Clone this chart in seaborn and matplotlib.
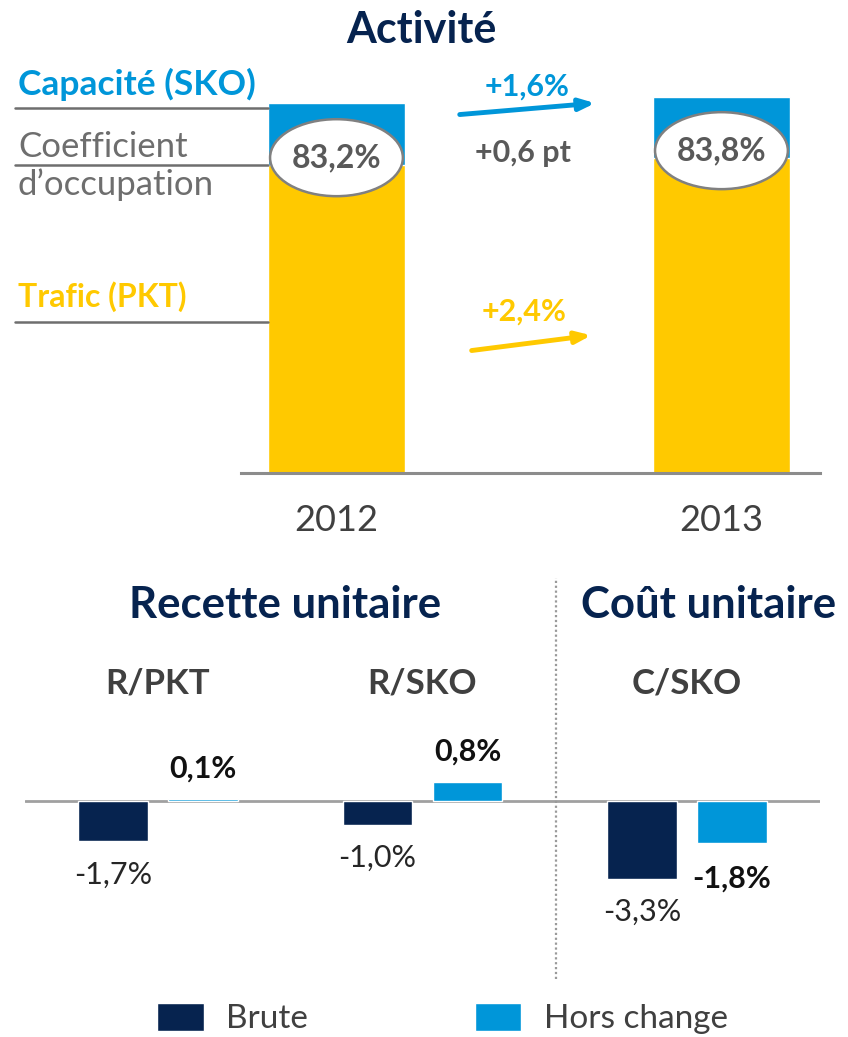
import numpy as np
import pandas as pd
import seaborn as sns
import matplotlib.pyplot as plt
from matplotlib.patches import Ellipse

sns.set_style("white")
plt.rcParams.update({"font.family": ["Lato", "DejaVu Sans"]})

navy = "#06234f"
blue = "#0096d9"
yellow = "#ffc900"
grey_txt = "#595959"
grey_line = "#8c8c8c"

# top chart: activity (capacity indexed to 100 in 2012)
years = ["2012", "2013"]
capacity = [100.0, 101.6]
traffic = [83.2, 85.1]
load_factor = ["83,2%", "83,8%"]
cap_change = "+1,6%"
traf_change = "+2,4%"
lf_change = "+0,6 pt"

# bottom chart: unit revenue / unit cost
metrics = ["R/PKT", "R/SKO", "C/SKO"]
brute = [-1.7, -1.0, -3.3]
hors_change = [0.1, 0.8, -1.8]
brute_lbl = ["-1,7%", "-1,0%", "-3,3%"]
hc_lbl = ["0,1%", "0,8%", "-1,8%"]

W, H = 848, 1037
fig = plt.figure(figsize=(W / 100, H / 100), dpi=100)

# ---------- top ----------
ax1 = fig.add_axes([241 / W, 1 - 473 / H, (820 - 241) / W, (473 - 60) / H])
sns.barplot(x=years, y=capacity, color=blue, saturation=1, width=0.357, ax=ax1)
sns.barplot(x=years, y=traffic, color=yellow, saturation=1, width=0.357, ax=ax1)
ax1.set_ylim(0, 111.6)
ax1.set_xlim(-0.248, 1.256)
sns.despine(ax=ax1, left=True, top=True, right=True)
ax1.spines["bottom"].set_color(grey_line)
ax1.spines["bottom"].set_linewidth(2.2)
ax1.set_yticks([])
ax1.tick_params(axis="x", length=0, pad=22, labelsize=26, labelcolor="#404040")

for i in range(2):
    ax1.add_patch(Ellipse((i, traffic[i] + 2.0), 0.345, 20.8, facecolor="white",
                          edgecolor="#808080", lw=1.8, zorder=5))
    ax1.text(i, traffic[i] + 2.0, load_factor[i], ha="center", va="center",
             fontsize=23, fontweight="bold", color=grey_txt, zorder=6)

# leader lines + labels on the left
x_left = (15 - 336.5) / 385
x_edge = -0.357 / 2
for yv in [capacity[0] - 1.4, traffic[0], traffic[0] * 0.49]:
    ax1.plot([x_left, x_edge], [yv, yv], color="#6e6e6e", lw=1.8, clip_on=False)
x_txt = (18 - 336.5) / 385
ax1.text(x_txt, capacity[0] + 5, "Capacité (SKO)", color=blue, fontsize=25.5,
         fontweight="bold", va="center", ha="left", clip_on=False)
ax1.text(x_txt, traffic[0] + 4.9, "Coefficient", color="#6e6e6e", fontsize=25,
         va="center", ha="left", clip_on=False)
ax1.text(x_txt, traffic[0] - 5.4, "d\u2019occupation", color="#6e6e6e", fontsize=25,
         va="center", ha="left", clip_on=False)
ax1.text(x_txt, traffic[0] * 0.572, "Trafic (PKT)", color=yellow, fontsize=23,
         fontweight="bold", va="center", ha="left", clip_on=False)

# growth arrows
ax1.annotate("", xy=(0.679, capacity[1] - 1.6), xytext=(0.313, capacity[0] - 3.2),
             arrowprops=dict(arrowstyle="-|>,head_length=0.9,head_width=0.35",
                             color=blue, lw=3.5))
ax1.annotate("", xy=(0.669, traffic[1] - 47.8), xytext=(0.344, traffic[0] - 50.2),
             arrowprops=dict(arrowstyle="-|>,head_length=0.9,head_width=0.35",
                             color=yellow, lw=3.5))
ax1.text(0.495, capacity[0] + 4.3, cap_change, color=blue, fontsize=22,
         fontweight="bold", ha="center", va="center")
ax1.text(0.484, traffic[0] + 3.3, lf_change, color=grey_txt, fontsize=22,
         fontweight="bold", ha="center", va="center")
ax1.text(0.487, traffic[0] * 0.523, traf_change, color=yellow, fontsize=22,
         fontweight="bold", ha="center", va="center")

fig.text(421 / W, 1 - 30 / H, "Activité", ha="center", va="center",
         fontsize=31, fontweight="bold", color=navy)

# ---------- bottom ----------
df = pd.DataFrame({
    "metric": metrics * 2,
    "type": ["Brute"] * 3 + ["Hors change"] * 3,
    "value": brute + hors_change,
})
ax2 = fig.add_axes([25 / W, 1 - 979 / H, 795 / W, 401 / H])
sns.barplot(data=df, x="metric", y="value", hue="type",
            palette={"Brute": navy, "Hors change": blue}, saturation=1,
            width=0.68, gap=0.224, ax=ax2)
ax2.set_xlim(-0.503, 2.503)
ax2.set_ylim(-7.57, 9.49)
ax2.axis("off")
ax2.axhline(0, color="#a0a0a0", lw=2, zorder=0)
ax2.axvline(1.505, color="#9a9a9a", lw=1.6, ls=(0, (1, 1.2)))

for i in range(3):
    ax2.annotate(brute_lbl[i], (i - 0.17, brute[i]), xytext=(0, -24),
                 textcoords="offset points", ha="center", va="center",
                 fontsize=22, color="#262626")
    off = 22 if hors_change[i] > 0 else -25
    ax2.annotate(hc_lbl[i], (i + 0.17, hors_change[i]), xytext=(0, off),
                 textcoords="offset points", ha="center", va="center",
                 fontsize=22, fontweight="bold", color="#111111")
    ax2.text(i, 5.02, metrics[i], ha="center", va="center", fontsize=25,
             fontweight="bold", color="#404040")

ax2.text(0.48, 8.34, "Recette unitaire", ha="center", va="center",
         fontsize=31.5, fontweight="bold", color=navy)
ax2.text(2.08, 8.34, "Coût unitaire", ha="center", va="center",
         fontsize=31.5, fontweight="bold", color=navy)

handles, labels = ax2.get_legend_handles_labels()
ax2.get_legend().remove()
fig.legend(handles, labels, loc="upper left", bbox_to_anchor=(157 / W, 1 - 1003 / H),
           ncol=2, frameon=False, handlelength=1.4, handleheight=0.9,
           handletextpad=0.67, columnspacing=5.0, borderpad=0, borderaxespad=0,
           labelcolor="#404040", prop={"size": 24})

fig.savefig("out.png", dpi=100)
